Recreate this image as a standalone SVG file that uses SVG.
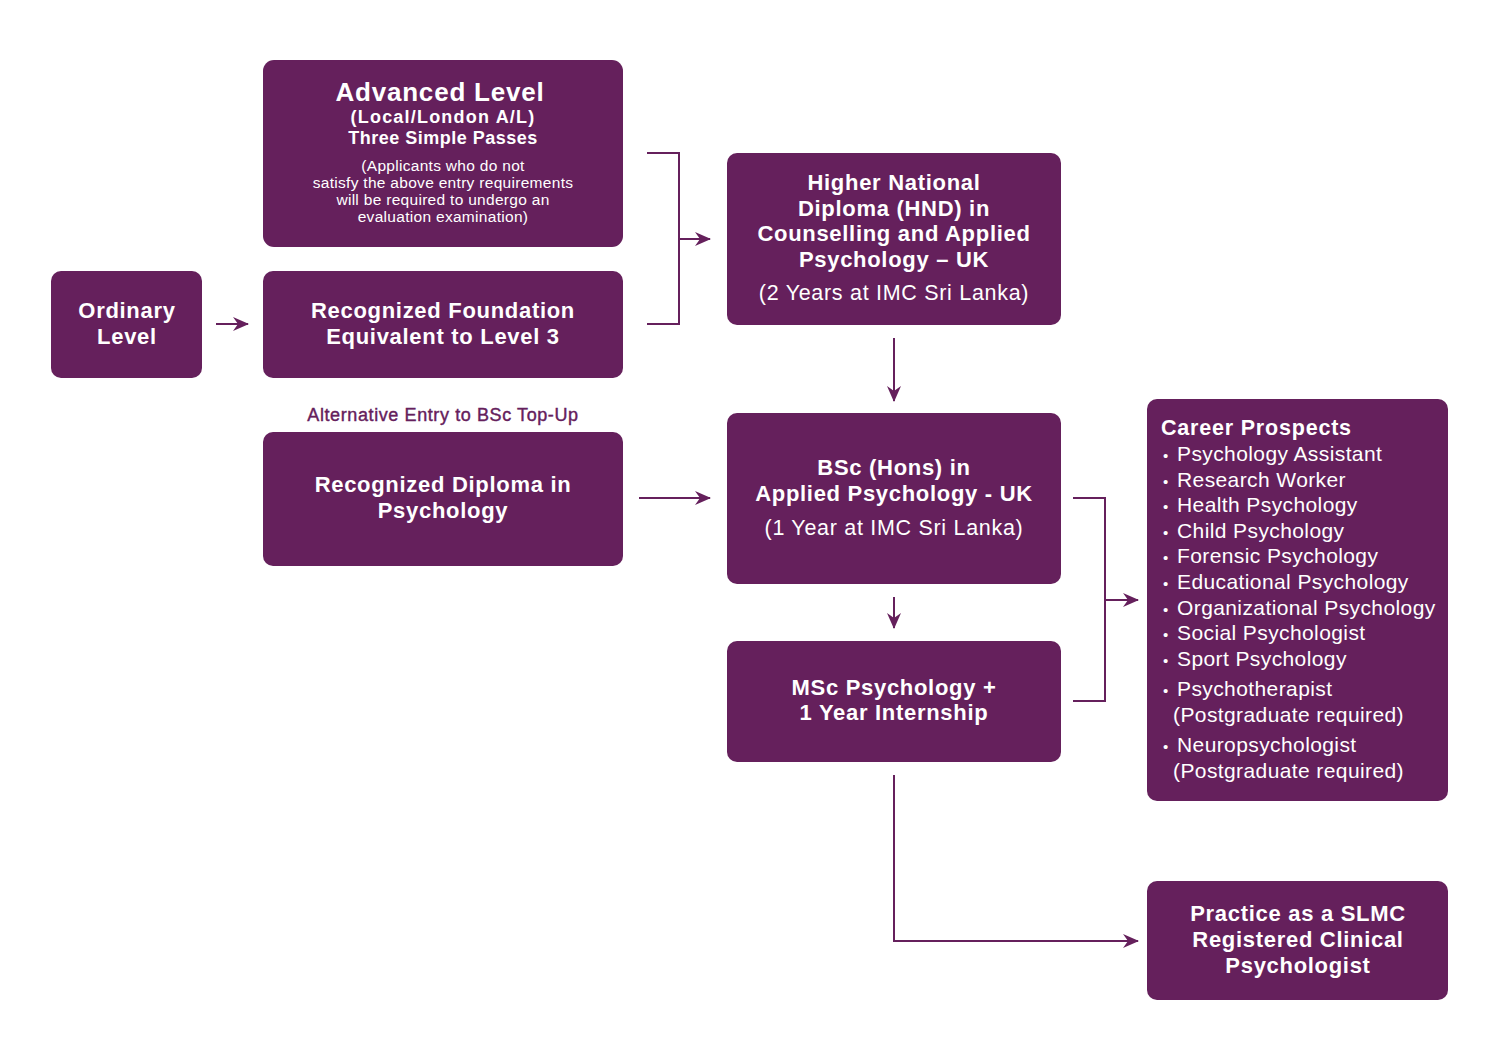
<svg xmlns="http://www.w3.org/2000/svg" width="1500" height="1060" viewBox="0 0 1500 1060">
<style>
.box{fill:#65205C}
.t{font-family:"Liberation Sans",Arial,sans-serif;fill:#fff;text-anchor:middle}
.b{font-weight:700;font-size:22px;letter-spacing:0.7px}
.n{font-weight:400;font-size:21.5px;letter-spacing:0.7px}
.s{font-weight:400;font-size:15.5px;letter-spacing:0.3px}
.l{font-family:"Liberation Sans",Arial,sans-serif;fill:#fff;font-size:21px;letter-spacing:0.4px}
.c{fill:none;stroke:#65205C;stroke-width:2}
</style>
<defs>
<marker id="ah" viewBox="0 0 16 14" refX="15" refY="7" markerWidth="16" markerHeight="14" markerUnits="userSpaceOnUse" orient="auto">
<path d="M0,0 L16,7 L0,14 L5,7 Z" fill="#65205C"/>
</marker>
</defs>
<rect width="1500" height="1060" fill="#fff"/>

<g id="connectors">
<path class="c" d="M216,324 H248" marker-end="url(#ah)"/>
<path class="c" d="M647,153 H679 V324 H647"/>
<path class="c" d="M679,239 H710" marker-end="url(#ah)"/>
<path class="c" d="M894,338 V401" marker-end="url(#ah)"/>
<path class="c" d="M639,498 H710" marker-end="url(#ah)"/>
<path class="c" d="M894,597 V628" marker-end="url(#ah)"/>
<path class="c" d="M1073,498 H1105 V701 H1073"/>
<path class="c" d="M1105,600 H1138" marker-end="url(#ah)"/>
<path class="c" d="M894,775 V941 H1138" marker-end="url(#ah)"/>
</g>

<g id="advanced">
<rect class="box" x="263" y="60" width="360" height="187" rx="11"/>
<text class="t" x="440" y="101" font-weight="700" font-size="26" letter-spacing="0.8">Advanced Level</text>
<text class="t" x="443" y="123" font-weight="700" font-size="18" letter-spacing="1.2">(Local/London A/L)</text>
<text class="t" x="443" y="144" font-weight="700" font-size="18" letter-spacing="0.5">Three Simple Passes</text>
<text class="t s" x="443" y="171">(Applicants who do not</text>
<text class="t s" x="443" y="188">satisfy the above entry requirements</text>
<text class="t s" x="443" y="205">will be required to undergo an</text>
<text class="t s" x="443" y="222">evaluation examination)</text>
</g>

<g id="ordinary">
<rect class="box" x="51" y="271" width="151" height="107" rx="10"/>
<text class="t b" x="127" y="318">Ordinary</text>
<text class="t b" x="127" y="344">Level</text>
</g>

<g id="foundation">
<rect class="box" x="263" y="271" width="360" height="107" rx="10"/>
<text class="t b" x="443" y="318">Recognized Foundation</text>
<text class="t b" x="443" y="344">Equivalent to Level 3</text>
</g>

<g id="alt-label">
<text x="443" y="421" font-family="Liberation Sans,Arial,sans-serif" font-size="18" letter-spacing="0.6" fill="#65205C" stroke="#65205C" stroke-width="0.4" text-anchor="middle">Alternative Entry to BSc Top-Up</text>
</g>

<g id="diploma">
<rect class="box" x="263" y="432" width="360" height="134" rx="10"/>
<text class="t b" x="443" y="492">Recognized Diploma in</text>
<text class="t b" x="443" y="518">Psychology</text>
</g>

<g id="hnd">
<rect class="box" x="727" y="153" width="334" height="172" rx="10"/>
<text class="t b" x="894" y="190">Higher National</text>
<text class="t b" x="894" y="216">Diploma (HND) in</text>
<text class="t b" x="894" y="241">Counselling and Applied</text>
<text class="t b" x="894" y="267">Psychology – UK</text>
<text class="t n" x="894" y="300">(2 Years at IMC Sri Lanka)</text>
</g>

<g id="bsc">
<rect class="box" x="727" y="413" width="334" height="171" rx="10"/>
<text class="t b" x="894" y="475">BSc (Hons) in</text>
<text class="t b" x="894" y="501">Applied Psychology - UK</text>
<text class="t n" x="894" y="535">(1 Year at IMC Sri Lanka)</text>
</g>

<g id="msc">
<rect class="box" x="727" y="641" width="334" height="121" rx="10"/>
<text class="t b" x="894" y="695">MSc Psychology +</text>
<text class="t b" x="894" y="720">1 Year Internship</text>
</g>

<g id="career">
<rect class="box" x="1147" y="399" width="301" height="402" rx="10"/>
<text x="1161" y="435" font-family="Liberation Sans,Arial,sans-serif" font-weight="700" font-size="21.5" letter-spacing="0.8" fill="#fff">Career Prospects</text>
<g class="l">
<text x="1163" y="461"><tspan font-size="15">•</tspan><tspan x="1177">Psychology Assistant</tspan></text>
<text x="1163" y="487"><tspan font-size="15">•</tspan><tspan x="1177">Research Worker</tspan></text>
<text x="1163" y="512"><tspan font-size="15">•</tspan><tspan x="1177">Health Psychology</tspan></text>
<text x="1163" y="538"><tspan font-size="15">•</tspan><tspan x="1177">Child Psychology</tspan></text>
<text x="1163" y="563"><tspan font-size="15">•</tspan><tspan x="1177">Forensic Psychology</tspan></text>
<text x="1163" y="589"><tspan font-size="15">•</tspan><tspan x="1177">Educational Psychology</tspan></text>
<text x="1163" y="615"><tspan font-size="15">•</tspan><tspan x="1177">Organizational Psychology</tspan></text>
<text x="1163" y="640"><tspan font-size="15">•</tspan><tspan x="1177">Social Psychologist</tspan></text>
<text x="1163" y="666"><tspan font-size="15">•</tspan><tspan x="1177">Sport Psychology</tspan></text>
<text x="1163" y="696"><tspan font-size="15">•</tspan><tspan x="1177">Psychotherapist</tspan></text>
<text x="1173" y="722">(Postgraduate required)</text>
<text x="1163" y="752"><tspan font-size="15">•</tspan><tspan x="1177">Neuropsychologist</tspan></text>
<text x="1173" y="778">(Postgraduate required)</text>
</g>
</g>

<g id="practice">
<rect class="box" x="1147" y="881" width="301" height="119" rx="10"/>
<text class="t b" x="1298" y="921">Practice as a SLMC</text>
<text class="t b" x="1298" y="947">Registered Clinical</text>
<text class="t b" x="1298" y="973">Psychologist</text>
</g>
</svg>
